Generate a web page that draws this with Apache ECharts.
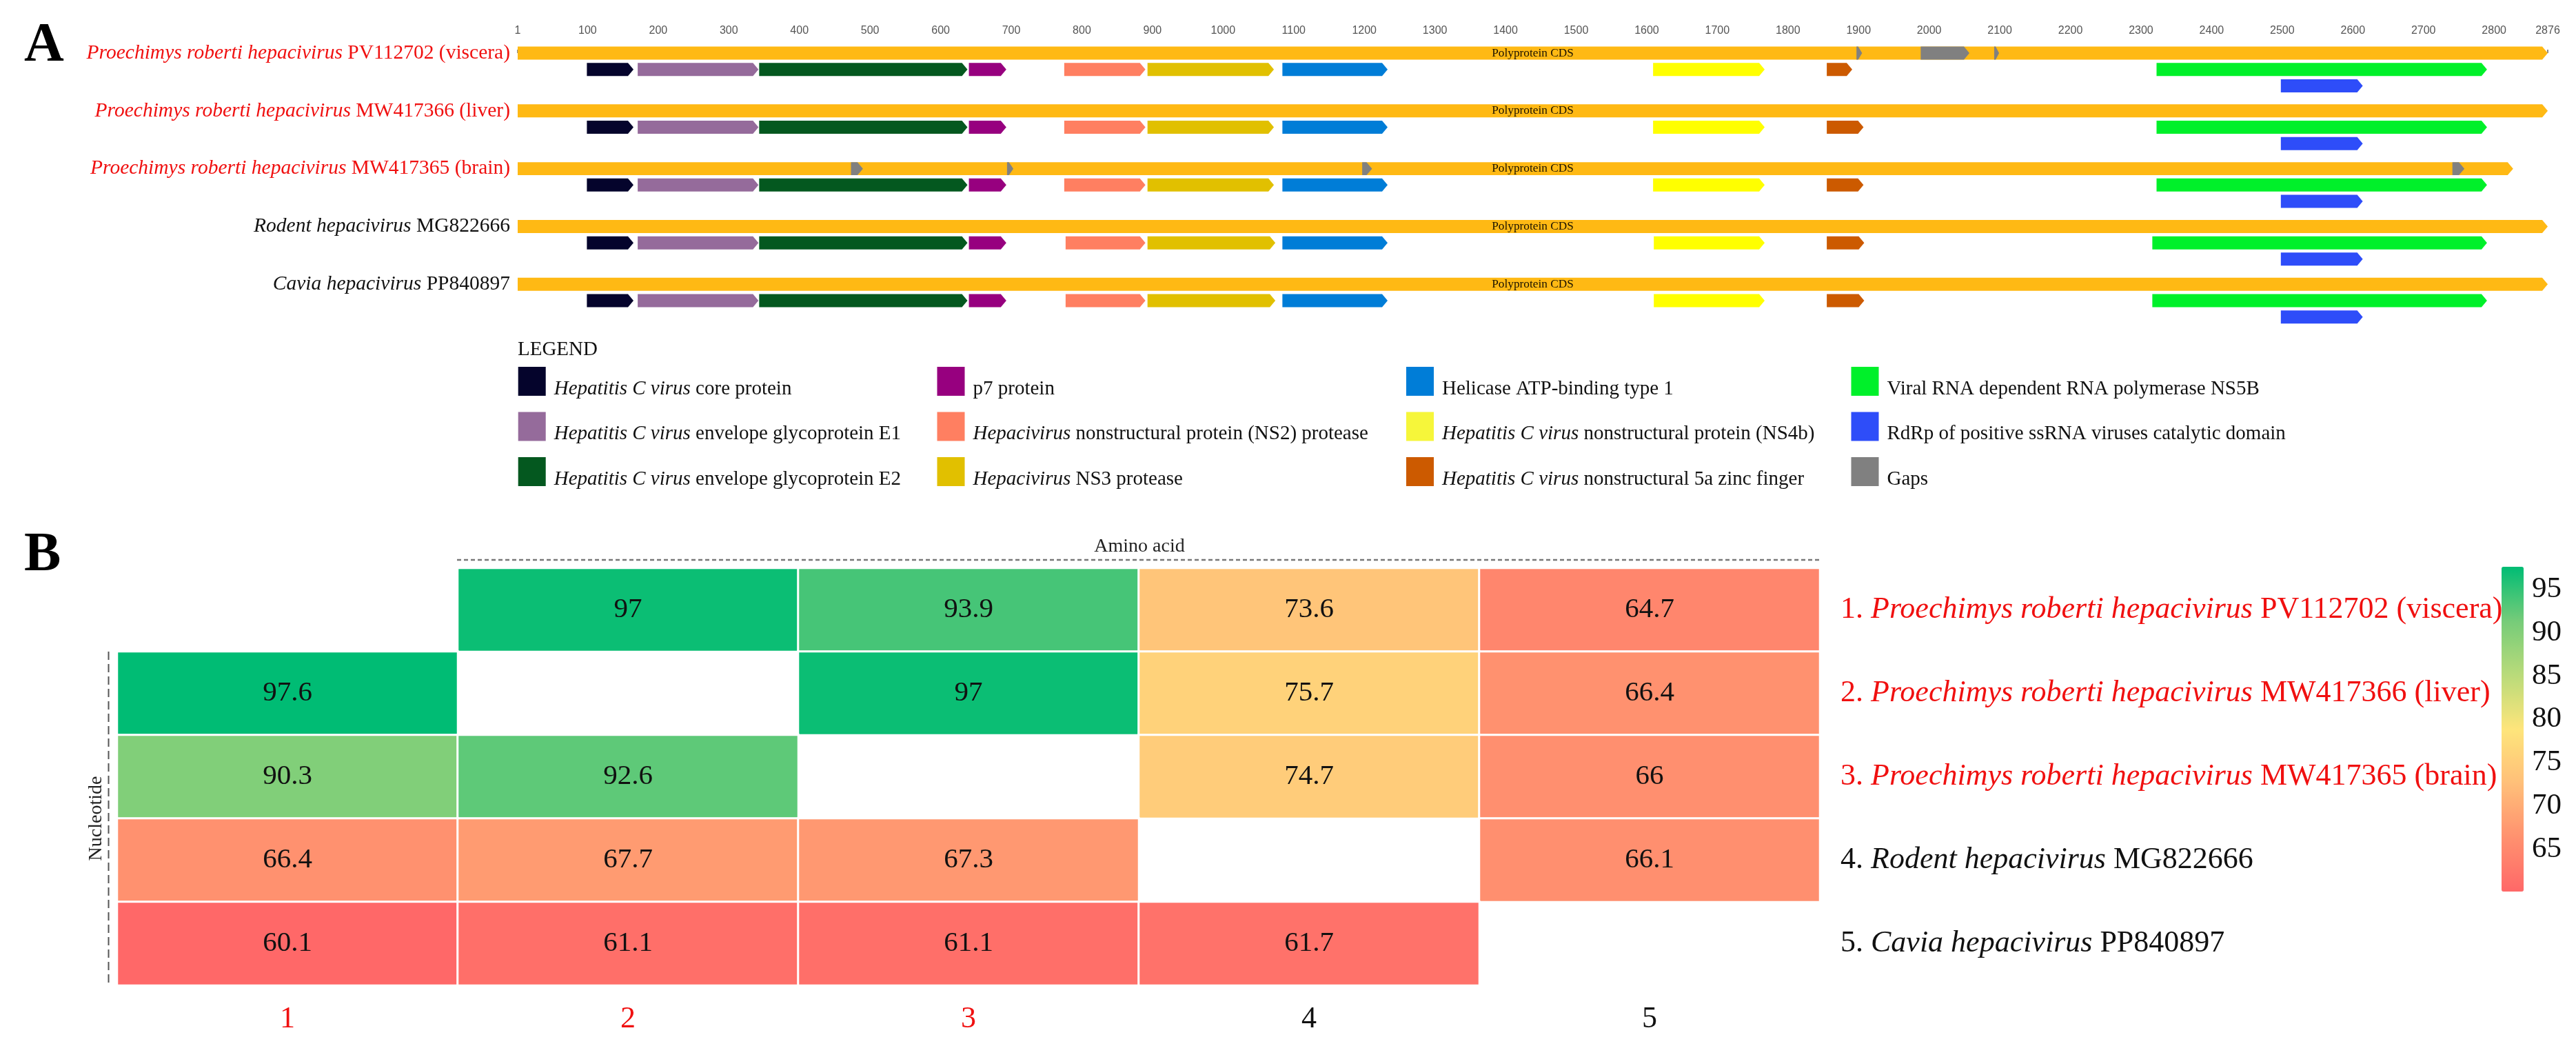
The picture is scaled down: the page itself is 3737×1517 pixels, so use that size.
<!DOCTYPE html>
<html>
<head>
<meta charset="utf-8">
<style>html,body{margin:0;padding:0;background:#fff}#c{width:3737px;height:1517px}</style>
<script src="https://cdn.jsdelivr.net/npm/echarts@6/dist/echarts.min.js"></script>
</head>
<body>
<div id="c"></div>
<script>
// ---------- Genome map data: [genome index, start aa, end aa] ----------
const genomeNames = [
  ['Proechimys roberti hepacivirus ', 'PV112702 (viscera)'],
  ['Proechimys roberti hepacivirus ', 'MW417366 (liver)'],
  ['Proechimys roberti hepacivirus ', 'MW417365 (brain)'],
  ['Rodent hepacivirus ', 'MG822666'],
  ['Cavia hepacivirus ', 'PP840897']
];
const highlighted = [true, true, true, false, false];
const positionTicks = [1,100,200,300,400,500,600,700,800,900,1000,1100,1200,1300,1400,1500,1600,1700,1800,1900,2000,2100,2200,2300,2400,2500,2600,2700,2800,2876];
const polyprotein = [[0,1,2876],[1,1,2876],[2,1,2827],[3,1,2876],[4,1,2876]];
const gaps = [[0,1897,1905],[0,1988,2057],[0,2092,2099],[2,473,490],[2,694,703],[2,1197,1211],[2,2741,2758]];
const core = [[0,99,165],[1,99,165],[2,99,165],[3,99,165],[4,99,165]];
const e1 = [[0,171,342],[1,171,342],[2,171,342],[3,171,342],[4,171,342]];
const e2 = [[0,343,638],[1,343,638],[2,343,638],[3,343,638],[4,343,638]];
const p7 = [[0,640,693],[1,640,693],[2,640,693],[3,640,693],[4,640,693]];
const ns2 = [[0,775,890],[1,775,890],[2,775,890],[3,777,890],[4,777,890]];
const ns3 = [[0,893,1072],[1,893,1072],[2,893,1072],[3,893,1074],[4,893,1074]];
const helicase = [[0,1084,1233],[1,1084,1233],[2,1084,1233],[3,1084,1233],[4,1084,1233]];
const ns4b = [[0,1609,1767],[1,1609,1767],[2,1609,1767],[3,1610,1767],[4,1610,1767]];
const zincFinger = [[0,1855,1891],[1,1855,1907],[2,1855,1907],[3,1855,1908],[4,1855,1908]];
const ns5b = [[0,2322,2790],[1,2322,2790],[2,2322,2790],[3,2316,2790],[4,2316,2790]];
const rdrp = [[0,2498,2614],[1,2498,2614],[2,2498,2614],[3,2498,2614],[4,2498,2614]];

// ---------- Identity matrix (row = sequence, column = sequence) ----------
const matrixLabels = ['1','2','3','4','5'];
const rowOne   = [null, 97, 93.9, 73.6, 64.7];
const rowTwo   = [97.6, null, 97, 75.7, 66.4];
const rowThree = [90.3, 92.6, null, 74.7, 66];
const rowFour  = [66.4, 67.7, 67.3, null, 66.1];
const rowFive  = [60.1, 61.1, 61.1, 61.7, null];
const colorbarTicks = [65,70,75,80,85,90,95];

// ---------- Legend / track definitions ----------
const serif = '"Liberation Serif","Times New Roman",serif';
const trackDefs = [
  {name:'core',  data:core,       lane:1, color:'#05042C', label:'{i|Hepatitis C virus }{n|core protein}'},
  {name:'E1',    data:e1,         lane:1, color:'#956B9B', label:'{i|Hepatitis C virus }{n|envelope glycoprotein E1}'},
  {name:'E2',    data:e2,         lane:1, color:'#04581F', label:'{i|Hepatitis C virus }{n|envelope glycoprotein E2}'},
  {name:'p7',    data:p7,         lane:1, color:'#97007F', label:'{n|p7 protein}'},
  {name:'NS2',   data:ns2,        lane:1, color:'#FF7F61', label:'{i|Hepacivirus }{n|nonstructural protein (NS2) protease}'},
  {name:'NS3',   data:ns3,        lane:1, color:'#E1C000', label:'{i|Hepacivirus }{n|NS3 protease}'},
  {name:'Hel',   data:helicase,   lane:1, color:'#007DD7', label:'{n|Helicase ATP-binding type 1}'},
  {name:'NS4b',  data:ns4b,       lane:1, color:'#FFFF00', swatch:'#F6F63A', label:'{i|Hepatitis C virus }{n|nonstructural protein (NS4b)}'},
  {name:'Zinc',  data:zincFinger, lane:1, color:'#CC5A00', label:'{i|Hepatitis C virus }{n|nonstructural 5a zinc finger}'},
  {name:'NS5B',  data:ns5b,       lane:1, color:'#00F02A', label:'{n|Viral RNA dependent RNA polymerase NS5B}'},
  {name:'RdRp',  data:rdrp,       lane:2, color:'#2E4DF9', label:'{n|RdRp of positive ssRNA viruses catalytic domain}'},
  {name:'Gaps',  data:gaps,       lane:0, color:'#808080', label:'{n|Gaps}'}
];
const legendColumns = [
  {left:751.7, names:['core','E1','E2']},
  {left:1359.5,names:['p7','NS2','NS3']},
  {left:2040,  names:['Hel','NS4b','Zinc']},
  {left:2685.5,names:['NS5B','RdRp','Gaps']}
];

const LANES_PER_GENOME = 3.536;
const laneValue = (g, lane) => g * LANES_PER_GENOME + lane;

function arrowItem(color, lane, withCaption) {
  return function (params, api) {
    const g = api.value(0);
    const y = laneValue(g, lane);
    const a = api.coord([api.value(1), y]);
    const b = api.coord([api.value(2), y]);
    const h = api.size([0, 0.8])[1];
    const head = Math.min(8, (b[0] - a[0]) * 0.7);
    const pts = [[a[0], a[1]-h/2],[b[0]-head, a[1]-h/2],[b[0], a[1]],[b[0]-head, a[1]+h/2],[a[0], a[1]+h/2]];
    const children = [{type:'polygon', shape:{points:pts}, style:{fill:color}}];
    if (withCaption) {
      const mid = api.coord([1438.5, y]);
      children.push({type:'text', style:{text:'Polyprotein CDS', x:mid[0], y:mid[1], align:'center', verticalAlign:'middle', font:'17.3px '+serif, fill:'#1a1200'}});
    }
    return {type:'group', children};
  };
}

const heatData = [];
[rowOne,rowTwo,rowThree,rowFour,rowFive].forEach((row,r)=>row.forEach((v,c)=>{ if(v!==null) heatData.push([c,r,v]); }));

const series = [
  {type:'custom', name:'Polyprotein', xAxisIndex:0, yAxisIndex:0, clip:false, z:2, data:polyprotein,
   encode:{x:[1,2], y:0}, renderItem:arrowItem('#FFB914',0,true), itemStyle:{color:'#FFB914'}, silent:true},
  ...trackDefs.map(t=>({type:'custom', name:t.name, xAxisIndex:0, yAxisIndex:0, clip:false, z:t.name==='Gaps'?4:3, data:t.data,
   encode:{x:[1,2], y:0}, renderItem:arrowItem(t.color,t.lane,false), itemStyle:{color:t.color}, silent:true})),
  {type:'heatmap', name:'Identity', xAxisIndex:1, yAxisIndex:1, data:heatData, silent:true,
   label:{show:true, formatter:p=>String(p.value[2]), fontFamily:serif, fontSize:41, color:'#111'},
   itemStyle:{borderColor:'#fff', borderWidth:3}}
];

const richName = size => ({
  ri:{fontFamily:serif,fontSize:size,fontStyle:'italic',color:'#F01010'},
  rn:{fontFamily:serif,fontSize:size,color:'#F01010'},
  bi:{fontFamily:serif,fontSize:size,fontStyle:'italic',color:'#111'},
  bn:{fontFamily:serif,fontSize:size,color:'#111'}
});
const nameRich = (i, prefix) => {
  const p = highlighted[i] ? 'r' : 'b';
  const [it, reg] = genomeNames[i];
  return (prefix ? `{${p}n|${prefix} }` : '') + `{${p}i|${it}}{${p}n|${reg}}`;
};

const option = {
  animation:false,
  backgroundColor:'#fff',
  grid:[
    {left:751, width:2945, top:60, height:410},
    {left:170, width:2470, top:824, height:605},
    {left:3629, width:32, top:822, height:471}
  ],
  xAxis:[
    {gridIndex:0, type:'value', position:'top', min:1, max:2876, splitLine:{show:false},
     axisLine:{show:false},
     axisTick:{show:true, length:5, customValues:positionTicks, lineStyle:{color:'#666', width:1.5}},
     axisLabel:{show:true, margin:7, customValues:positionTicks, formatter:v=>String(v), fontFamily:'"Liberation Sans",Arial,sans-serif', fontSize:16, color:'#555'}},
    {gridIndex:1, type:'category', position:'bottom', data:matrixLabels, axisLine:{show:false}, axisTick:{show:false}, splitLine:{show:false},
     axisLabel:{margin:27, formatter:v=>(highlighted[+v-1]?`{r|${v}}`:`{b|${v}}`),
       rich:{r:{fontFamily:serif,fontSize:44,color:'#F01010'}, b:{fontFamily:serif,fontSize:44,color:'#111'}}}},
    {gridIndex:2, type:'value', show:false, min:0, max:1}
  ],
  yAxis:[
    {gridIndex:0, type:'value', inverse:true, min:-0.717, max:16.58, splitLine:{show:false}, axisLine:{show:false}, axisTick:{show:false},
     axisLabel:{show:true, margin:11, customValues:genomeNames.map((_,i)=>laneValue(i,0)),
       formatter:v=>nameRich(Math.round(v/LANES_PER_GENOME)), rich:richName(29.5)}},
    {gridIndex:1, type:'category', position:'right', inverse:true, data:matrixLabels, axisLine:{show:false}, axisTick:{show:false}, splitLine:{show:false},
     axisLabel:{margin:30, align:'left', formatter:v=>nameRich(+v-1, v+'.'), rich:richName(44)}},
    {gridIndex:2, type:'value', position:'right', min:60.1, max:97.6, splitLine:{show:false}, axisLine:{show:false}, axisTick:{show:false},
     axisLabel:{margin:12, customValues:colorbarTicks, fontFamily:serif, fontSize:43, color:'#111'}}
  ],
  visualMap:{
    type:'continuous', seriesIndex:series.length-1, min:60.1, max:97.6, calculable:false, realtime:false, show:true,
    left:3629, top:822, itemWidth:32, itemHeight:471, text:null, padding:0, showLabel:false,
    textStyle:{fontSize:0},
    inRange:{color:['#FF6868','#FF916F','#FFBF79','#FEE57B','#B9DB7A','#76CC79','#00BC74']}
  },
  legend:legendColumns.map(col=>({
    show:true, orient:'vertical', left:col.left, top:532, padding:0, itemWidth:40, itemHeight:42, itemGap:19,
    selectedMode:false, icon:'rect',
    data:col.names.map(n=>{
      const t = trackDefs.find(d=>d.name===n);
      return t.swatch ? {name:n, itemStyle:{color:t.swatch}} : {name:n};
    }),
    formatter:n=>trackDefs.find(t=>t.name===n).label,
    textStyle:{padding:[22,0,0,7], rich:{
      i:{fontFamily:serif,fontSize:29,fontStyle:'italic',color:'#111'},
      n:{fontFamily:serif,fontSize:29,color:'#111'}}}
  })),
  series,
  graphic:{elements:[
    {type:'text', style:{text:'A', x:35, y:67, font:'bold 80px '+serif, fill:'#000', verticalAlign:'middle'}},
    {type:'text', style:{text:'B', x:35, y:806, font:'bold 80px '+serif, fill:'#000', verticalAlign:'middle'}},
    {type:'text', style:{text:'LEGEND', x:751, y:507, font:'29px '+serif, fill:'#111', verticalAlign:'middle'}},
    {type:'text', style:{text:'Amino acid', x:1653, y:793, font:'28px '+serif, fill:'#222', align:'center', verticalAlign:'middle'}},
    {type:'text', x:140, y:1187, rotation:Math.PI/2, style:{text:'Nucleotide', x:0, y:0, font:'28px '+serif, fill:'#222', align:'center', verticalAlign:'middle'}},
    {type:'line', shape:{x1:663,y1:812,x2:2640,y2:812}, style:{stroke:'#777', lineWidth:2.5, lineDash:[6,4]}},
    {type:'line', shape:{x1:157.5,y1:945,x2:157.5,y2:1429}, style:{stroke:'#555', lineWidth:2, lineDash:[12,6]}}
  ]}
};
const chart = echarts.init(document.getElementById('c'), null, {renderer:'canvas', width:3737, height:1517});
chart.setOption(option);
</script>
</body>
</html>
